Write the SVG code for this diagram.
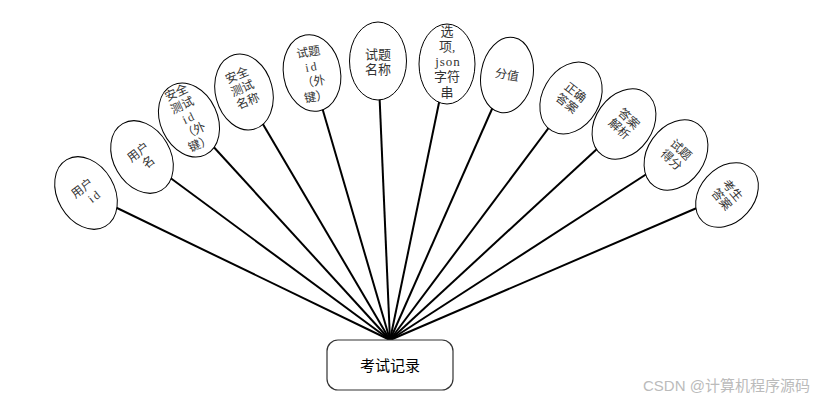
<svg xmlns="http://www.w3.org/2000/svg" width="819" height="401" viewBox="0 0 819 401">
<style>
.bg{fill:#fff}
.conn line{stroke:#000;stroke-width:2}
.attr ellipse{fill:#fff;stroke:#000;stroke-width:1}
.t{font-family:"Liberation Serif","Noto Sans CJK SC",serif;font-size:12px;fill:#333;text-anchor:middle}
.m{letter-spacing:2px}
.ent rect{fill:#fff;stroke:#333;stroke-width:1.2}
.et{font-family:"Liberation Sans","Noto Sans CJK SC",sans-serif;font-size:15px;fill:#000;text-anchor:middle}
.wm{font-family:"Liberation Sans","Noto Sans CJK SC",sans-serif;font-size:15px;fill:#bbb}
</style>
<rect class="bg" x="0" y="0" width="819" height="401"/>
<g id="connectors" class="conn">
<line x1="390" y1="340" x2="86" y2="193"/>
<line x1="390" y1="340" x2="142" y2="157"/>
<line x1="390" y1="340" x2="189" y2="120"/>
<line x1="390" y1="340" x2="244" y2="92"/>
<line x1="390" y1="340" x2="312" y2="73"/>
<line x1="390" y1="340" x2="378" y2="61"/>
<line x1="390" y1="340" x2="447" y2="64"/>
<line x1="390" y1="340" x2="507" y2="75"/>
<line x1="390" y1="340" x2="571" y2="98"/>
<line x1="390" y1="340" x2="624" y2="124"/>
<line x1="390" y1="340" x2="676" y2="155"/>
<line x1="390" y1="340" x2="727" y2="195"/>
</g>
<g id="n1" class="attr" transform="translate(86,193) rotate(-30)">
<ellipse rx="28.5" ry="38.5"/>
<text class="t" transform="rotate(-8)"><tspan x="0" y="-2">用户</tspan><tspan class="m" x="5" y="12">id</tspan></text>
</g>
<g id="n2" class="attr" transform="translate(142,157) rotate(-30)">
<ellipse rx="28.5" ry="38.5"/>
<text class="t" transform="rotate(-8)"><tspan x="0" y="-2">用户</tspan><tspan x="2" y="12">名</tspan></text>
</g>
<g id="n3" class="attr" transform="translate(189,120) rotate(-25)">
<ellipse rx="28.5" ry="38.5"/>
<text class="t"><tspan x="0" y="-26">安全</tspan><tspan x="0" y="-12">测试</tspan><tspan class="m" x="1" y="2">id</tspan><tspan x="0" y="16">（外</tspan><tspan x="0" y="30">键）</tspan></text>
</g>
<g id="n4" class="attr" transform="translate(244,92) rotate(-15)">
<ellipse rx="28.5" ry="38.5"/>
<text class="t" transform="rotate(-8)"><tspan x="0" y="-14">安全</tspan><tspan x="0" y="0">测试</tspan><tspan x="0" y="14">名称</tspan></text>
</g>
<g id="n5" class="attr" transform="translate(312,73) rotate(-10)">
<ellipse rx="28.5" ry="38.5"/>
<text class="t"><tspan x="0" y="-17">试题</tspan><tspan class="m" x="1" y="-2">id</tspan><tspan x="0" y="13">（外</tspan><tspan x="0" y="28">键）</tspan></text>
</g>
<g id="n6" class="attr" transform="translate(378,61)">
<ellipse rx="28.5" ry="39"/>
<text class="t" style="font-size:13px"><tspan x="0" y="-2">试题</tspan><tspan x="0" y="13">名称</tspan></text>
</g>
<g id="n7" class="attr" transform="translate(447,64)">
<ellipse rx="28" ry="40"/>
<text class="t" style="font-size:13px"><tspan x="0" y="-28">选</tspan><tspan x="0" y="-13">项,</tspan><tspan class="m" x="1" y="2" style="letter-spacing:1px">json</tspan><tspan x="0" y="17">字符</tspan><tspan x="0" y="33">串</tspan></text>
</g>
<g id="n8" class="attr" transform="translate(507,75) rotate(10)">
<ellipse rx="26" ry="38"/>
<text class="t"><tspan x="0" y="4">分值</tspan></text>
</g>
<g id="n9" class="attr" transform="translate(571,98) rotate(30)">
<ellipse rx="28.5" ry="38"/>
<text class="t" transform="rotate(8)"><tspan x="0" y="-3">正确</tspan><tspan x="0" y="11">答案</tspan></text>
</g>
<g id="n10" class="attr" transform="translate(624,124) rotate(35)">
<ellipse rx="28.5" ry="38"/>
<text class="t" transform="rotate(8)"><tspan x="0" y="-3">答案</tspan><tspan x="0" y="11">解析</tspan></text>
</g>
<g id="n11" class="attr" transform="translate(676,155) rotate(35)">
<ellipse rx="28.5" ry="38"/>
<text class="t" transform="rotate(8)"><tspan x="0" y="-3">试题</tspan><tspan x="0" y="11">得分</tspan></text>
</g>
<g id="n12" class="attr" transform="translate(727,195) rotate(42)">
<ellipse rx="27" ry="36"/>
<text class="t" transform="rotate(8)"><tspan x="0" y="-3">考生</tspan><tspan x="0" y="11">答案</tspan></text>
</g>
<g id="entity" class="ent">
<rect x="327" y="340" width="126" height="50" rx="11"/>
<text class="et" x="390" y="371">考试记录</text>
</g>
<text class="wm" x="643" y="391">CSDN @计算机程序源码</text>
</svg>
